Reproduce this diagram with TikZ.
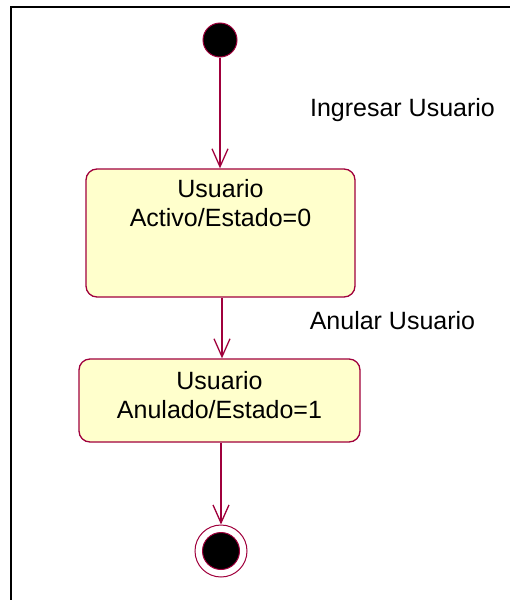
\documentclass[tikz,border=0pt]{standalone}
\usepackage{fontspec}
\setmainfont{Liberation Sans}
\usetikzlibrary{arrows.meta,positioning}
\definecolor{umlrojo}{RGB}{160,0,60}
\definecolor{umlfondo}{RGB}{255,255,204}
\tikzset{
  estado/.style={draw=umlrojo, line width=1.3pt, fill=umlfondo, rounded corners=11pt},
  rotulo/.style={align=center, font=\fontsize{25}{29}\selectfont, inner sep=0pt},
  trans/.style={draw=umlrojo, line width=1.3pt, -{Straight Barb[length=18pt,width=16pt,line width=1.3pt]}},
  etiqueta/.style={font=\fontsize{25}{29}\selectfont, inner sep=0pt}
}
\begin{document}
\begin{tikzpicture}[x=1pt,y=-1pt]
\useasboundingbox (0,0) rectangle (510,600);
% marco
\draw[line width=2pt] (10.5,600) -- (10.5,6.5) -- (510,6.5);
% estados
\node[circle, fill=black, draw=umlrojo, line width=1pt, minimum size=34pt, inner sep=0pt] (inicio) at (220,40) {};
\node[estado, minimum width=269pt, minimum height=128pt] (activo) at (220.5,233) {};
\node[rotulo] (activoTxt) at ([yshift=-34.5pt]activo.north) {Usuario\\Activo/Estado=0};
\node[estado, minimum width=281pt, minimum height=83pt] (anulado) at (219.5,400.5) {};
\node[rotulo] (anuladoTxt) at ([yshift=-36.5pt]anulado.north) {Usuario\\Anulado/Estado=1};
\node[circle, draw=umlrojo, line width=1pt, minimum size=52pt, inner sep=0pt] (fin) at (221,551) {};
\node[circle, fill=black, draw=umlrojo, line width=1pt, minimum size=37pt, inner sep=0pt] (finPunto) at (fin.center) {};
% transiciones
\draw[trans] (inicio) -- (inicio |- activo.north);
\draw[trans] ([xshift=1.5pt]activo.south) -- ([xshift=1.5pt]activo.south |- anulado.north);
\draw[trans] ([xshift=1.5pt]anulado.south) -- (fin.north);
% etiquetas
\node[etiqueta] (ingresar) at (402.5,110) {Ingresar Usuario};
\node[etiqueta] (anular) at (392.5,321) {Anular Usuario};
\end{tikzpicture}
\end{document}
